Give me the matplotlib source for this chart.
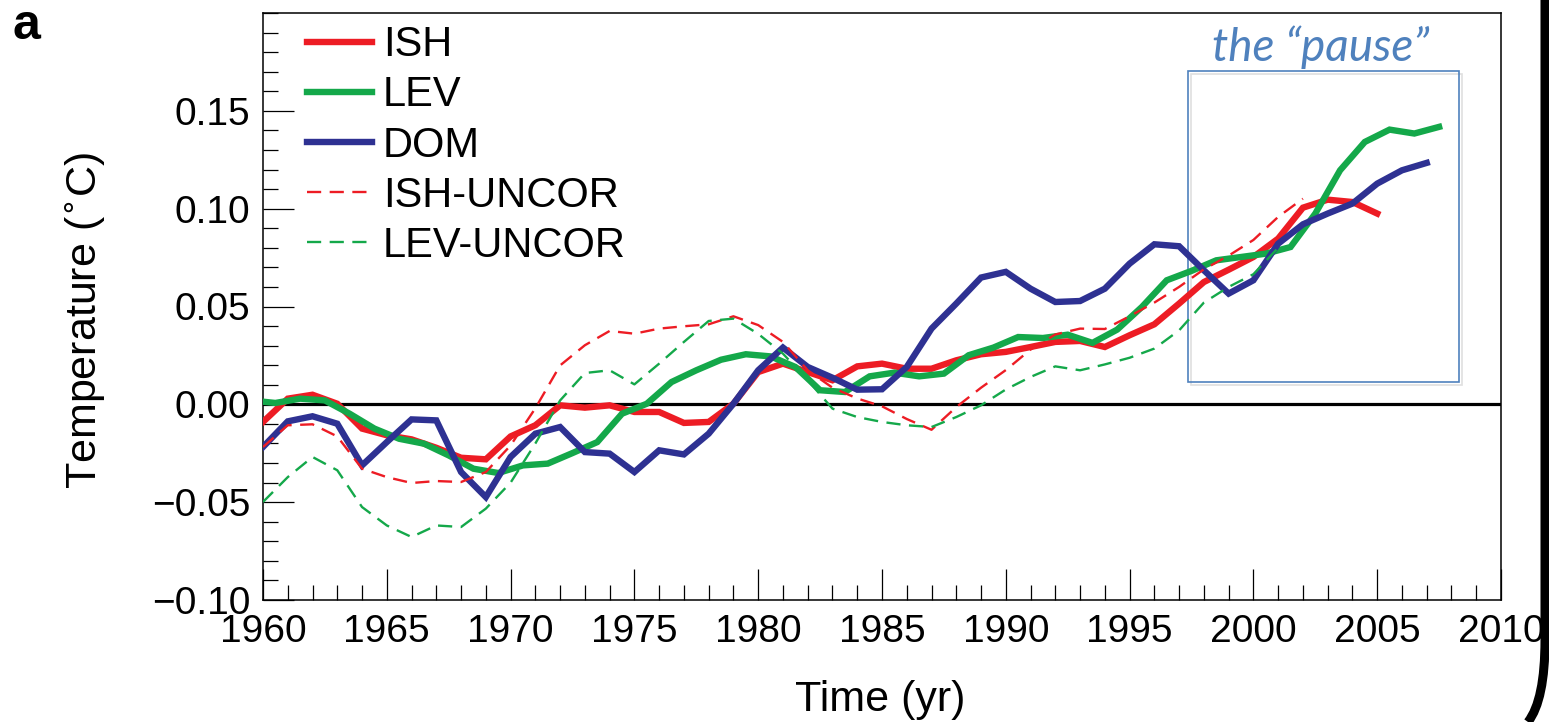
import numpy as np
import matplotlib
matplotlib.use("Agg")
import matplotlib.pyplot as plt
import matplotlib.patches as mpatches
import matplotlib.patheffects as pe
from matplotlib.path import Path
from matplotlib.ticker import MultipleLocator

plt.rcParams['font.family'] = ['Liberation Sans', 'DejaVu Sans']

# ---- data ----
ish_years = np.arange(1960, 2006)
ish = [-0.0090, 0.0029, 0.0049, 0.0003, -0.0124, -0.0158, -0.0179, -0.0222, -0.0273, -0.0281,
       -0.0164, -0.0107, -0.0005, -0.0017, -0.0005, -0.0039, -0.0039, -0.0095, -0.0090, 0.0003,
       0.0165, 0.0208, 0.0165, 0.0123, 0.0194, 0.0208, 0.0182, 0.0182, 0.0225, 0.0256,
       0.0268, 0.0293, 0.0319, 0.0324, 0.0293, 0.0353, 0.0409, 0.0515, 0.0625, 0.0688,
       0.0753, 0.0847, 0.1005, 0.1046, 0.1034, 0.0975]

# LEV is plotted at mid-year
lev_years = np.arange(1959.5, 2008.0, 1.0)
lev = [0.0020, 0.0007, 0.0029, 0.0020, -0.0048, -0.0124, -0.0176, -0.0201, -0.0261, -0.0329,
       -0.0351, -0.0312, -0.0303, -0.0249, -0.0193, -0.0048, 0.0003, 0.0114, 0.0174, 0.0228,
       0.0256, 0.0245, 0.0191, 0.0072, 0.0063, 0.0143, 0.0162, 0.0143, 0.0157, 0.0251,
       0.0290, 0.0344, 0.0339, 0.0356, 0.0314, 0.0382, 0.0498, 0.0634, 0.0682, 0.0736,
       0.0753, 0.0770, 0.0804, 0.0975, 0.1196, 0.1341, 0.1404, 0.1384, 0.1418]

dom_years = np.arange(1960, 2008)
dom = [-0.0218, -0.0087, -0.0061, -0.0099, -0.0312, -0.0193, -0.0077, -0.0082, -0.0346, -0.0474,
       -0.0269, -0.0150, -0.0116, -0.0244, -0.0252, -0.0346, -0.0235, -0.0256, -0.0150, 0.0003,
       0.0174, 0.0290, 0.0191, 0.0136, 0.0075, 0.0077, 0.0191, 0.0387, 0.0515, 0.0648,
       0.0677, 0.0591, 0.0523, 0.0528, 0.0591, 0.0719, 0.0818, 0.0808, 0.0685, 0.0566,
       0.0634, 0.0821, 0.0920, 0.0975, 0.1026, 0.1128, 0.1196, 0.1234]

ish_uncor_years = np.arange(1960, 2003)
ish_uncor = [-0.0218, -0.0107, -0.0102, -0.0164, -0.0329, -0.0372, -0.0402, -0.0392, -0.0397, -0.0346,
             -0.0210, -0.0020, 0.0199, 0.0302, 0.0375, 0.0361, 0.0387, 0.0399, 0.0409, 0.0450,
             0.0405, 0.0319, 0.0174, 0.0085, 0.0030, -0.0010, -0.0075, -0.0130, -0.0014, 0.0085,
             0.0175, 0.0280, 0.0357, 0.0387, 0.0385, 0.0450, 0.0520, 0.0600, 0.0690, 0.0760,
             0.0840, 0.0958, 0.1051]

lev_uncor_years = np.arange(1960, 2002)
lev_uncor = [-0.0499, -0.0372, -0.0269, -0.0337, -0.0525, -0.0619, -0.0678, -0.0619, -0.0627, -0.0533,
             -0.0400, -0.0200, 0.0020, 0.0160, 0.0174, 0.0102, 0.0208, 0.0319, 0.0426, 0.0438,
             0.0360, 0.0259, 0.0123, -0.0022, -0.0065, -0.0090, -0.0107, -0.0116, -0.0065, -0.0005,
             0.0076, 0.0140, 0.0194, 0.0174, 0.0204, 0.0238, 0.0285, 0.0378, 0.0520, 0.0600,
             0.0665, 0.0800]

y_ticks = [-0.10, -0.05, 0.00, 0.05, 0.10, 0.15]
y_ticklabels = ['\u22120.10', '\u22120.05', '0.00', '0.05', '0.10', '0.15']
x_ticks = [1960, 1965, 1970, 1975, 1980, 1985, 1990, 1995, 2000, 2005, 2010]

RED = '#ED1C24'
GREEN = '#14A84A'
BLUE = '#2E3192'
BOXBLUE = '#4F81BD'

fig = plt.figure(figsize=(15.49, 7.22), dpi=100)
ax = fig.add_axes([263/1549, 1-600/722, (1501-263)/1549, (600-13)/722])

ax.axhline(0, color='black', lw=2.3, zorder=1)
ax.plot(ish_years, ish, color=RED, lw=4.6, label='ISH', solid_joinstyle='miter', zorder=3)
ax.plot(lev_years, lev, color=GREEN, lw=4.6, label='LEV', solid_joinstyle='miter', zorder=3)
ax.plot(dom_years, dom, color=BLUE, lw=4.6, label='DOM', solid_joinstyle='miter', zorder=3)
ax.plot(ish_uncor_years, ish_uncor, color=RED, lw=1.7, dashes=(6, 3.6), label='ISH-UNCOR', zorder=4)
ax.plot(lev_uncor_years, lev_uncor, color=GREEN, lw=1.7, dashes=(6, 3.6), label='LEV-UNCOR', zorder=4)

ax.set_xlim(1960, 2010)
ax.set_ylim(-0.10, 0.20)
ax.set_xticks(x_ticks)
ax.set_xticklabels([str(v) for v in x_ticks])
ax.set_yticks(y_ticks)
ax.set_yticklabels(y_ticklabels)
ax.xaxis.set_minor_locator(MultipleLocator(1))
ax.yaxis.set_minor_locator(MultipleLocator(0.01))
ax.tick_params(which='both', direction='in', top=False, right=False, width=0.9, color='black')
ax.tick_params(which='major', length=22)
ax.tick_params(which='minor', length=11)
ax.tick_params(axis='x', which='major', labelsize=28, pad=10)
ax.tick_params(axis='y', which='major', labelsize=28, pad=9)
for s in ax.spines.values():
    s.set_linewidth(1.1)

leg = ax.legend(loc='upper left', bbox_to_anchor=(38/1238, 0.99), frameon=False, fontsize=30,
                handlelength=1.56, handletextpad=0.26, labelspacing=0.245,
                borderaxespad=0, borderpad=0.15)

# the "pause" box
box = mpatches.Rectangle((1997.35, 0.0113), 2008.3-1997.35, 0.1702-0.0113, fill=False,
                         edgecolor=BOXBLUE, lw=1.2, zorder=2,
                         path_effects=[pe.SimpleLineShadow(offset=(2, -2), shadow_color='gray', alpha=0.25),
                                       pe.Normal()])
ax.add_patch(box)
fig.text(1321/1549, 1-47/722, 'the \u201cpause\u201d', color=BOXBLUE, fontsize=33, style='italic',
         family=['Lato', 'DejaVu Sans'], ha='center', va='center')

fig.text(85/1549, 1-320/722, r'Temperature ($^{\circ}$C)', rotation=90, fontsize=31,
         ha='center', va='center')
fig.text(880/1549, 1-700/722, 'Time (yr)', fontsize=31, ha='center', va='center')
fig.text(13/1549, 1-26/722, 'a', fontsize=36, fontweight='bold', ha='left', va='center')

# dark frame edge on the right of the screenshot
W, H = 1549, 722
verts = [(1545/W, 1.0), (1545/W, 1-640/H), (1545/W, 1-700/H), (1528/W, 1-722/H)]
codes = [Path.MOVETO, Path.LINETO, Path.CURVE3, Path.CURVE3]
fig.add_artist(mpatches.PathPatch(Path(verts, codes), fill=False, lw=6.5, edgecolor='black',
                                  transform=fig.transFigure))

fig.savefig('out.png', dpi=100)
